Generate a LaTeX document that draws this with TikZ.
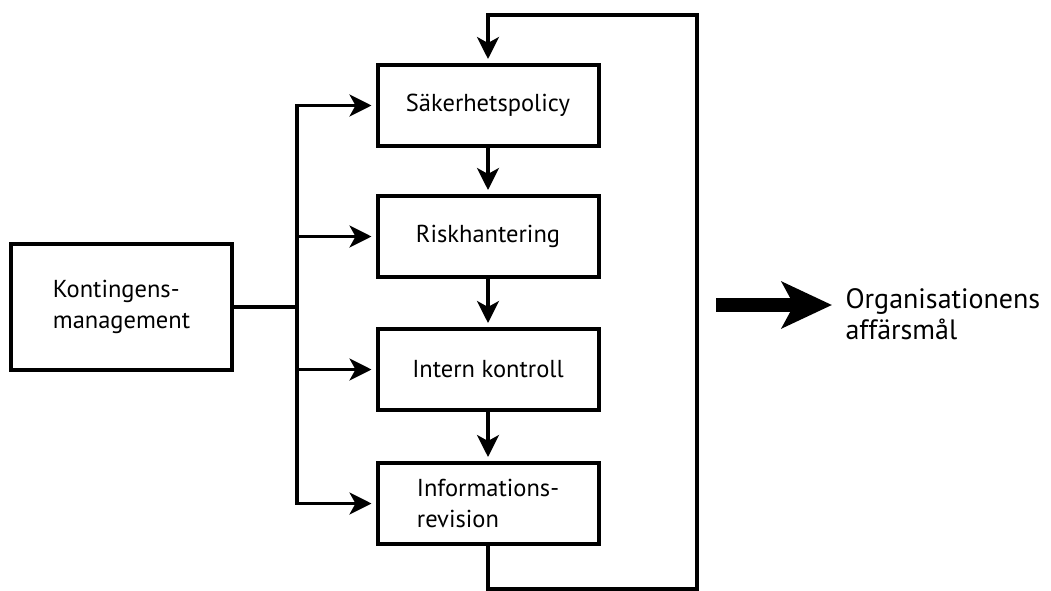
\documentclass[tikz,border=0pt]{standalone}
\usepackage{fontspec}
\setmainfont{PT Sans}
\usetikzlibrary{arrows.meta}

\begin{document}
\begin{tikzpicture}[x=1pt, y=-1pt,
  stepbox/.style={draw=black, line width=4pt, minimum width=221pt,
    minimum height=81pt, inner sep=0pt, align=left,
    font=\fontsize{24.5}{31}\selectfont},
  flowarrow/.style={-{Stealth[length=22pt, width=22pt, inset=6pt]},
    line width=3.3pt, shorten >=4pt},
  feedline/.style={line width=3.3pt},
  bigarrow/.style={-{Stealth[length=50pt, width=46pt, inset=12pt]},
    line width=14pt, shorten >=10pt}
]
\useasboundingbox (0,0) rectangle (1051,591);
\node[stepbox, minimum height=126pt] (kontingens) at (121.5,307) {Kontingens-\\management};
\node[stepbox] (policy) at (488,105.5) {Säkerhetspolicy};
\node[stepbox] (risk) at (488,236.5) {Riskhantering};
\node[stepbox] (kontroll) at (488,369.5) {Intern kontroll};
\node[stepbox] (revision) at (488,503.5) {Informations-\\revision};
\node[anchor=west, align=left, font=\fontsize{28}{31}\selectfont] (goal) at (842,314) {Organisationens\\affärsmål};
\coordinate (trunk) at (297,307);
\coordinate (loopbottom) at (697,589);
\coordinate (looptop) at (697,15);
\coordinate (bigstart) at (716,305);
\draw[feedline] (kontingens.east) -- (trunk);
\foreach \target in {policy,risk,kontroll,revision}
  \draw[flowarrow] (trunk) |- (\target.west);
\draw[flowarrow] (policy.south) -- (risk.north);
\draw[flowarrow] (risk.south) -- (kontroll.north);
\draw[flowarrow] (kontroll.south) -- (revision.north);
\draw[flowarrow] (revision.south) |- (loopbottom) -- (looptop) -| (policy.north);
\draw[bigarrow] (bigstart) -- (bigstart -| goal.west);
\end{tikzpicture}
\end{document}
